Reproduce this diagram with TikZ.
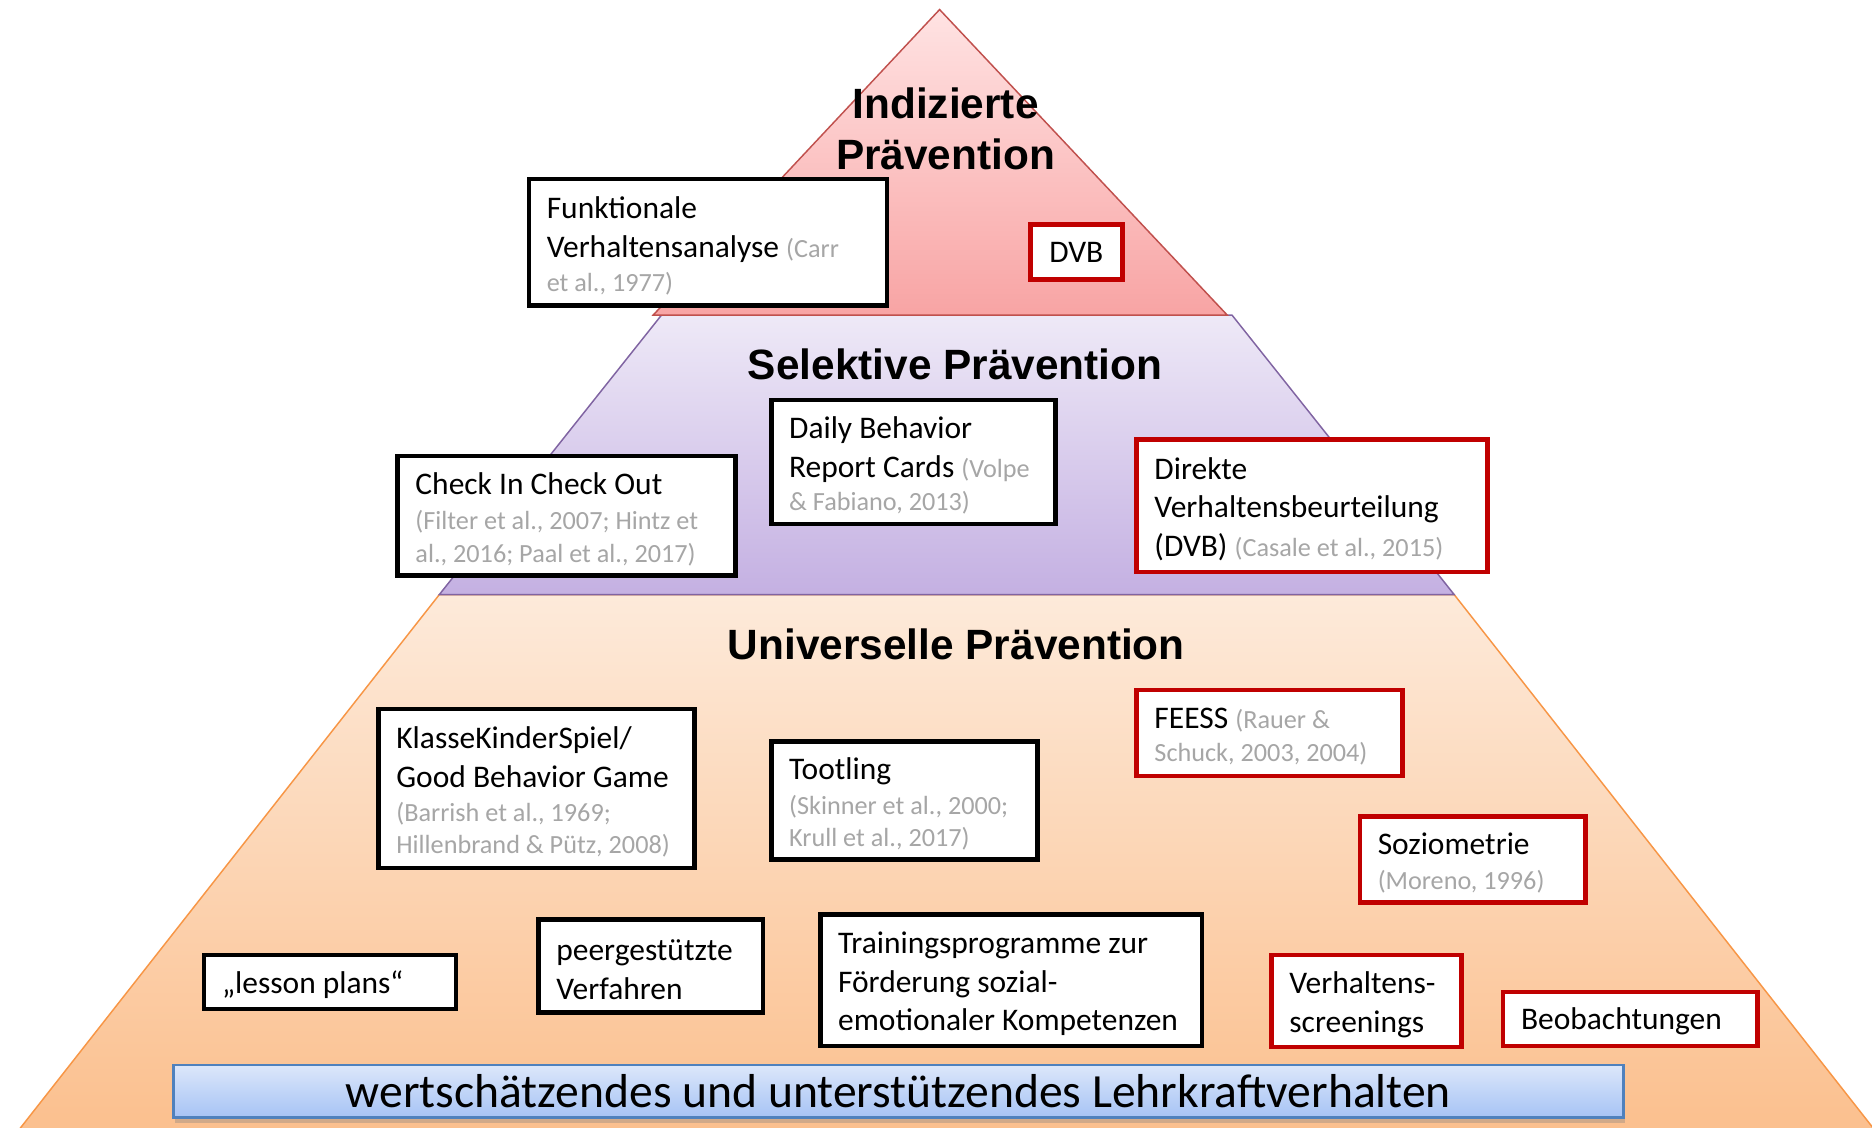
\documentclass[tikz,border=0pt]{standalone}
\usepackage{fontspec}
\setmainfont{Carlito}
\newfontfamily\headfont{Liberation Sans}
\usetikzlibrary{shadows}

\definecolor{citegray}{HTML}{A6A6A6}
\definecolor{boxred}{HTML}{C00000}
\definecolor{redline}{HTML}{C0504D}
\definecolor{redtop}{HTML}{FFE3E3}
\definecolor{redbot}{HTML}{F8A4A4}
\definecolor{lilaline}{HTML}{8064A2}
\definecolor{lilatop}{HTML}{EEE9F7}
\definecolor{lilabot}{HTML}{C4B0E2}
\definecolor{orline}{HTML}{F79646}
\definecolor{ortop}{HTML}{FDEADA}
\definecolor{orbot}{HTML}{FBBE8B}
\definecolor{barline}{HTML}{4F81BD}
\definecolor{bartop}{HTML}{DCE7FA}
\definecolor{barbot}{HTML}{A6C3F5}

\newcommand{\cit}[1]{{\color{citegray}\fontsize{12.5}{15.3}\selectfont #1}}
\newcommand{\lowertext}{\endgraf\vspace{-3.4pt}}

\begin{document}
\begin{tikzpicture}[x=0.02cm, y=-0.02cm,
    boxbase/.style={line width=2.2pt, fill=white, outer sep=0pt, font=\fontsize{15}{18.5}\selectfont\frenchspacing},
    infobox/.style={boxbase, draw=black, align=flush left, anchor=north west,
      inner xsep=0.3cm, inner ysep=0pt, execute at end node=\lowertext},
    redbox/.style={infobox, draw=boxred},
    level/.style={font=\headfont\bfseries\fontsize{20.2}{24.4}\selectfont, align=center}]
  \clip (0,0) rectangle (1568,944);

  % pyramid
  \path[draw=orline, line width=0.7pt, top color=ortop, bottom color=orbot]
    (368,498) -- (1218,498) -- (1584,964) -- (2,964) -- cycle;
  \path[draw=lilaline, line width=0.7pt, top color=lilatop, bottom color=lilabot]
    (554,264) -- (1032,264) -- (1218,498) -- (368,498) -- cycle;
  \path[draw=redline, line width=0.7pt, top color=redtop, bottom color=redbot]
    (787,8) -- (1028,264) -- (547,264) -- cycle;

  \node[level] (ind) at (792,108) {Indizierte\\Prävention};
  \node[level] (sel) at (800,305) {Selektive Prävention};
  \node[level] (uni) at (801,540) {Universelle Prävention};

  % indiziert
  \node[infobox, text width=5.40cm, minimum height=2.12cm] (fva) at (443,150)
    {Funktionale\\Verhaltensanalyse \cit{(Carr}\\[-2pt]\cit{et al., 1977)}};
  \node[boxbase, draw=boxred, inner sep=0pt, minimum width=1.54cm, minimum height=0.92cm] (dvb) at (901.5,211) {DVB};

  % selektiv
  \node[infobox, text width=5.06cm, minimum height=2.00cm] (cico) at (333,382)
    {Check In Check Out\\[-1.5pt]\cit{(Filter et al., 2007; Hintz et}\\[-3pt]\cit{al., 2016; Paal et al., 2017)}};
  \node[infobox, text width=4.16cm, minimum height=2.08cm] (dbrc) at (646,335)
    {Daily Behavior\\Report Cards \cit{(Volpe}\\[-2.5pt]\cit{\& Fabiano, 2013)}};
  \node[redbox, text width=5.28cm, minimum height=2.22cm] (dvbfull) at (952,368)
    {Direkte\\Verhaltensbeurteilung\\(DVB) \cit{(Casale et al., 2015)}};

  % universell
  \node[infobox, text width=4.70cm, minimum height=2.66cm] (kks) at (317,594)
    {KlasseKinderSpiel/\\Good Behavior Game\\[-2.5pt]\cit{(Barrish et al., 1969;}\\[-3pt]\cit{Hillenbrand \& Pütz, 2008)}};
  \node[infobox, text width=3.86cm, minimum height=1.98cm] (toot) at (646,621)
    {Tootling\\[-2pt]\cit{(Skinner et al., 2000;}\\[-3pt]\cit{Krull et al., 2017)}};
  \node[redbox, text width=3.86cm, minimum height=1.44cm] (feess) at (952,578)
    {FEESS \cit{(Rauer \&}\\[-3pt]\cit{Schuck, 2003, 2004)}};
  \node[redbox, text width=3.18cm, minimum height=1.44cm] (sozio) at (1139,684)
    {Soziometrie\\[-2pt]\cit{(Moreno, 1996)}};
  \node[infobox, text width=3.62cm, minimum height=0.90cm] (lesson) at (171,800) {„lesson plans“};
  \node[infobox, text width=3.16cm, minimum height=1.56cm] (peer) at (451,770)
    {peergestützte\\Verfahren};
  \node[infobox, text width=5.80cm, minimum height=2.20cm] (train) at (687,766)
    {Trainingsprogramme zur\\Förderung sozial-\\emotionaler Kompetenzen};
  \node[redbox, text width=2.58cm, minimum height=1.54cm] (screen) at (1065,800)
    {Verhaltens-\\screenings};
  \node[redbox, text width=3.66cm, minimum height=0.90cm] (beob) at (1259,831) {Beobachtungen};

  % basis
  \node[draw=barline, line width=1.2pt, top color=bartop, bottom color=barbot, inner sep=0pt,
    minimum width=24.3cm, minimum height=0.88cm, font=\fontsize{22.7}{27}\selectfont,
    drop shadow={shadow xshift=0.6pt, shadow yshift=-2.5pt, opacity=0.35}] (base) at (752.5,914)
    {wertschätzendes und unterstützendes Lehrkraftverhalten};
\end{tikzpicture}
\end{document}
